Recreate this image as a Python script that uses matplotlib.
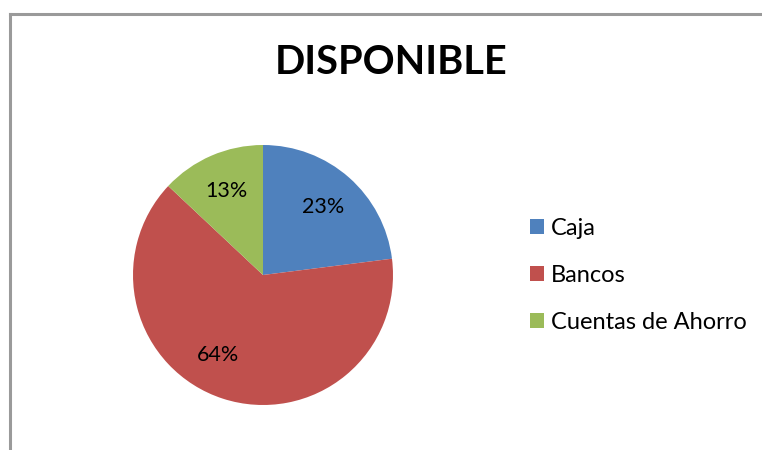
import matplotlib
matplotlib.use("Agg")
import matplotlib.pyplot as plt
from matplotlib.patches import Rectangle
from matplotlib.lines import Line2D

categories = ["Caja", "Bancos", "Cuentas de Ahorro"]
values = [23, 64, 13]
colors = ["#4F81BD", "#C0504D", "#9BBB59"]
title = "DISPONIBLE"

plt.rcParams['font.family'] = ['Lato', 'DejaVu Sans']

W, H = 762, 450
fig = plt.figure(figsize=(W / 100, H / 100), dpi=100)
fig.patch.set_facecolor("white")

# chart frame (cropped at right/bottom)
fig.add_artist(Line2D([9.5 / W, 9.5 / W], [0, 1 - 14 / H], color="#9a9a9a", lw=2.2, transform=fig.transFigure))
fig.add_artist(Line2D([9.5 / W, 1.0], [1 - 14 / H, 1 - 14 / H], color="#9a9a9a", lw=2.2, transform=fig.transFigure))

cx, cy, r = 263, 275, 130
ax = fig.add_axes([(cx - r) / W, (H - cy - r) / H, 2 * r / W, 2 * r / H])
wedges, texts, autotexts = ax.pie(
    values, colors=colors, startangle=90, counterclock=False,
    autopct="%1.0f%%", pctdistance=0.7, radius=1.0,
    textprops={"fontsize": 15.5, "color": "black"},
)
# Excel-style label placement for the large slice
autotexts[1].set_position((-0.35, -0.615))
ax.set_xlim(-1, 1)
ax.set_ylim(-1, 1)
ax.set_aspect("equal")
ax.axis("off")

fig.text(391 / W, 1 - 62 / H, title, ha="center", va="center",
         fontsize=28.5, fontweight="bold")

handles = [Rectangle((0, 0), 1, 1, facecolor=c) for c in colors]
leg = fig.legend(handles, categories, loc="upper left",
                 bbox_to_anchor=(530 / W, 1 - 218 / H), frameon=False,
                 fontsize=17, handlelength=0.6, handleheight=0.6,
                 handletextpad=0.3, labelspacing=1.1, borderpad=0, borderaxespad=0)

fig.savefig("out.png", dpi=100, facecolor="white")
